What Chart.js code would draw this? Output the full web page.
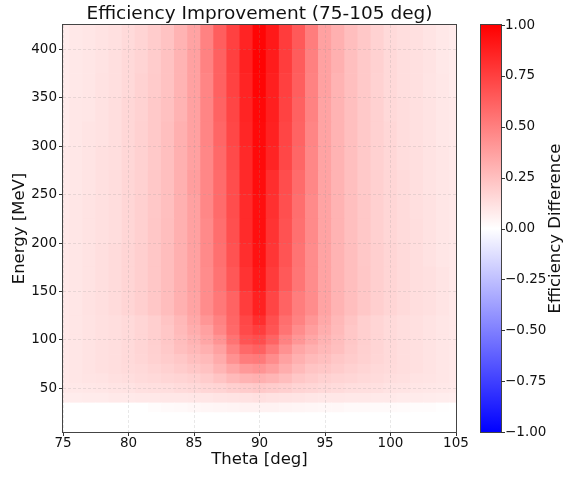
<!DOCTYPE html>
<html>
<head>
<meta charset="utf-8">
<title>Efficiency Improvement</title>
<script src="https://cdn.jsdelivr.net/npm/chart.js@4.4.1/dist/chart.umd.min.js"></script>
<style>
  html, body { margin: 0; padding: 0; background: #fff; }
  canvas { display: block; }
</style>
</head>
<body>
<canvas id="heatmap" width="577" height="477"></canvas>
<script>
// theta bin centres (deg), one column each
const thetaBins = [75, 76, 77, 78, 79, 80, 81, 82, 83, 84, 85, 86, 87, 88, 89, 90,
                   91, 92, 93, 94, 95, 96, 97, 98, 99, 100, 101, 102, 103, 104, 105];

// energy bin edges (MeV): 10 MeV steps up to 125, then 25 MeV steps
const energyEdges = [5, 15, 25, 35, 45, 55, 65, 75, 85, 95, 105, 115, 125,
                     150, 175, 200, 225, 250, 275, 300, 325, 350, 375, 400, 425];

const thetaTicks = [75, 80, 85, 90, 95, 100, 105];
const energyTicks = [50, 100, 150, 200, 250, 300, 350, 400];
const cbarTicks = [-1, -0.75, -0.5, -0.25, 0, 0.25, 0.5, 0.75, 1];

// efficiency difference, one row per energy bin (low -> high), columns follow thetaBins
const effDiff = [
  /*   5-15  */ [0, 0, 0, 0, 0, 0, 0, 0, 0, 0, 0, 0, 0, 0, 0, 0, 0, 0, 0, 0, 0, 0, 0, 0, 0, 0, 0, 0, 0, 0, 0],
  /*  15-25  */ [0, 0, 0, 0, 0, 0, 0, 0, 0, 0, 0, 0, 0, 0, 0, 0, 0, 0, 0, 0, 0, 0, 0, 0, 0, 0, 0, 0, 0, 0, 0],
  /*  25-35  */ [0, 0, 0, 0, 0, 0, 0, 0.01, 0.02, 0.025, 0.03, 0.035, 0.04, 0.045, 0.05, 0.05,
                 0.05, 0.045, 0.04, 0.035, 0.03, 0.03, 0.025, 0.025, 0.02, 0.02, 0.015, 0.01, 0.01, 0.005, 0],
  /*  35-45  */ [0.07, 0.075, 0.08, 0.08, 0.085, 0.085, 0.09, 0.09, 0.095, 0.095, 0.1, 0.1, 0.105, 0.11, 0.115, 0.12,
                 0.115, 0.11, 0.105, 0.1, 0.095, 0.095, 0.09, 0.09, 0.085, 0.085, 0.08, 0.08, 0.075, 0.07, 0.07],
  /*  45-55  */ [0.085, 0.09, 0.095, 0.1, 0.105, 0.11, 0.12, 0.125, 0.13, 0.14, 0.15, 0.16, 0.17, 0.19, 0.2, 0.21,
                 0.2, 0.19, 0.17, 0.16, 0.15, 0.14, 0.13, 0.125, 0.12, 0.11, 0.105, 0.1, 0.095, 0.09, 0.085],
  /*  55-65  */ [0.09, 0.1, 0.105, 0.11, 0.12, 0.13, 0.14, 0.15, 0.16, 0.17, 0.18, 0.2, 0.23, 0.27, 0.3, 0.31,
                 0.29, 0.26, 0.22, 0.2, 0.18, 0.17, 0.16, 0.15, 0.14, 0.13, 0.12, 0.11, 0.105, 0.1, 0.09],
  /*  65-75  */ [0.09, 0.1, 0.11, 0.12, 0.13, 0.14, 0.15, 0.165, 0.18, 0.2, 0.22, 0.24, 0.29, 0.35, 0.4, 0.42,
                 0.38, 0.32, 0.27, 0.23, 0.22, 0.2, 0.18, 0.165, 0.15, 0.14, 0.13, 0.12, 0.11, 0.1, 0.09],
  /*  75-85  */ [0.09, 0.1, 0.11, 0.12, 0.13, 0.145, 0.16, 0.18, 0.2, 0.22, 0.25, 0.27, 0.33, 0.43, 0.51, 0.52,
                 0.45, 0.37, 0.31, 0.27, 0.25, 0.22, 0.2, 0.18, 0.16, 0.145, 0.13, 0.12, 0.11, 0.1, 0.09],
  /*  85-95  */ [0.09, 0.1, 0.11, 0.12, 0.13, 0.145, 0.165, 0.185, 0.21, 0.25, 0.28, 0.31, 0.37, 0.49, 0.59, 0.62,
                 0.53, 0.43, 0.35, 0.31, 0.28, 0.25, 0.21, 0.185, 0.165, 0.145, 0.13, 0.12, 0.11, 0.1, 0.09],
  /*  95-105 */ [0.09, 0.1, 0.11, 0.12, 0.13, 0.145, 0.165, 0.19, 0.22, 0.26, 0.3, 0.35, 0.42, 0.55, 0.67, 0.7,
                 0.61, 0.49, 0.41, 0.35, 0.3, 0.26, 0.22, 0.19, 0.165, 0.145, 0.13, 0.12, 0.11, 0.1, 0.09],
  /* 105-115 */ [0.09, 0.1, 0.11, 0.12, 0.13, 0.145, 0.165, 0.19, 0.22, 0.27, 0.32, 0.37, 0.47, 0.59, 0.71, 0.76,
                 0.67, 0.55, 0.45, 0.38, 0.32, 0.27, 0.22, 0.19, 0.165, 0.145, 0.13, 0.12, 0.11, 0.1, 0.09],
  /* 115-125 */ [0.09, 0.1, 0.11, 0.12, 0.13, 0.145, 0.165, 0.19, 0.23, 0.28, 0.34, 0.41, 0.49, 0.6, 0.72, 0.82,
                 0.69, 0.57, 0.49, 0.41, 0.34, 0.28, 0.23, 0.19, 0.165, 0.145, 0.13, 0.12, 0.11, 0.1, 0.09],
  /* 125-150 */ [0.09, 0.1, 0.115, 0.125, 0.14, 0.165, 0.19, 0.22, 0.26, 0.31, 0.36, 0.45, 0.53, 0.61, 0.76, 0.87,
                 0.73, 0.61, 0.51, 0.45, 0.36, 0.3, 0.255, 0.22, 0.19, 0.165, 0.145, 0.13, 0.12, 0.105, 0.09],
  /* 150-175 */ [0.09, 0.1, 0.11, 0.125, 0.14, 0.165, 0.19, 0.22, 0.26, 0.31, 0.37, 0.45, 0.55, 0.66, 0.8, 0.91,
                 0.77, 0.65, 0.54, 0.45, 0.36, 0.3, 0.255, 0.22, 0.19, 0.165, 0.145, 0.13, 0.12, 0.105, 0.09],
  /* 175-200 */ [0.09, 0.1, 0.11, 0.125, 0.14, 0.165, 0.19, 0.22, 0.26, 0.31, 0.37, 0.46, 0.56, 0.68, 0.82, 0.93,
                 0.79, 0.67, 0.55, 0.45, 0.36, 0.3, 0.255, 0.215, 0.19, 0.165, 0.145, 0.13, 0.115, 0.1, 0.09],
  /* 200-225 */ [0.09, 0.1, 0.11, 0.12, 0.135, 0.16, 0.185, 0.22, 0.255, 0.31, 0.37, 0.46, 0.57, 0.69, 0.83, 0.94,
                 0.8, 0.68, 0.56, 0.46, 0.36, 0.3, 0.25, 0.215, 0.185, 0.16, 0.14, 0.13, 0.115, 0.1, 0.09],
  /* 225-250 */ [0.085, 0.1, 0.11, 0.12, 0.135, 0.16, 0.185, 0.215, 0.25, 0.31, 0.37, 0.47, 0.58, 0.7, 0.83, 0.94,
                 0.81, 0.69, 0.57, 0.46, 0.36, 0.3, 0.25, 0.215, 0.185, 0.16, 0.14, 0.125, 0.115, 0.1, 0.09],
  /* 250-275 */ [0.085, 0.095, 0.105, 0.12, 0.135, 0.16, 0.18, 0.215, 0.25, 0.31, 0.38, 0.47, 0.58, 0.7, 0.84, 0.95,
                 0.82, 0.7, 0.58, 0.47, 0.36, 0.3, 0.25, 0.21, 0.185, 0.16, 0.14, 0.125, 0.11, 0.1, 0.09],
  /* 275-300 */ [0.085, 0.095, 0.105, 0.12, 0.13, 0.155, 0.18, 0.21, 0.25, 0.31, 0.37, 0.47, 0.59, 0.71, 0.84, 0.96,
                 0.86, 0.72, 0.6, 0.47, 0.36, 0.3, 0.25, 0.21, 0.18, 0.155, 0.135, 0.125, 0.11, 0.1, 0.085],
  /* 300-325 */ [0.08, 0.095, 0.105, 0.115, 0.13, 0.155, 0.18, 0.21, 0.25, 0.31, 0.37, 0.48, 0.6, 0.72, 0.85, 0.96,
                 0.87, 0.73, 0.61, 0.48, 0.36, 0.3, 0.25, 0.21, 0.18, 0.155, 0.135, 0.12, 0.11, 0.095, 0.085],
  /* 325-350 */ [0.08, 0.095, 0.1, 0.115, 0.13, 0.155, 0.175, 0.21, 0.245, 0.3, 0.37, 0.48, 0.61, 0.73, 0.86, 0.97,
                 0.88, 0.74, 0.62, 0.49, 0.36, 0.3, 0.25, 0.21, 0.18, 0.15, 0.135, 0.12, 0.11, 0.095, 0.085],
  /* 350-375 */ [0.08, 0.09, 0.1, 0.115, 0.125, 0.15, 0.175, 0.205, 0.24, 0.3, 0.37, 0.48, 0.62, 0.74, 0.86, 0.98,
                 0.88, 0.75, 0.63, 0.49, 0.37, 0.3, 0.25, 0.21, 0.175, 0.15, 0.13, 0.12, 0.105, 0.095, 0.08],
  /* 375-400 */ [0.08, 0.09, 0.1, 0.11, 0.125, 0.15, 0.17, 0.2, 0.24, 0.3, 0.37, 0.49, 0.62, 0.75, 0.87, 0.99,
                 0.89, 0.76, 0.64, 0.5, 0.37, 0.31, 0.25, 0.21, 0.18, 0.15, 0.13, 0.12, 0.11, 0.09, 0.08],
  /* 400-425 */ [0.075, 0.09, 0.1, 0.11, 0.12, 0.145, 0.17, 0.2, 0.235, 0.3, 0.36, 0.49, 0.63, 0.745, 0.86, 0.98,
                 0.9, 0.765, 0.65, 0.51, 0.37, 0.31, 0.255, 0.215, 0.175, 0.145, 0.13, 0.12, 0.105, 0.09, 0.08]
];

const FONT = 'DejaVu Sans';
const INK = '#111';

// matplotlib "bwr": blue (-1) -> white (0) -> red (+1), linear in each half
function bwr(v) {
  const t = Math.max(-1, Math.min(1, v));
  if (t >= 0) {
    const c = Math.round(255 * (1 - t));
    return `rgb(255,${c},${c})`;
  }
  const c = Math.round(255 * (1 + t));
  return `rgb(${c},${c},255)`;
}

function fmtCbar(v) {
  const s = Math.abs(v).toFixed(2);
  return v < 0 ? '\u2212' + s : s;
}

// one floating-bar dataset per energy row; bars span the bin edges
const datasets = effDiff.map((row, i) => ({
  data: thetaBins.map(t => ({ x: t, y: [energyEdges[i], energyEdges[i + 1]] })),
  backgroundColor: row.map(bwr),
  borderWidth: 0,
  grouped: false,
  barPercentage: 1,
  categoryPercentage: 1
}));

// plot frame, colour bar and its label
const frameAndColorbar = {
  id: 'frameAndColorbar',
  afterDraw(chart) {
    const { ctx, chartArea: a, scales } = chart;
    const cb = scales.cbar;
    ctx.save();
    ctx.strokeStyle = '#444';
    ctx.lineWidth = 1;
    const l = Math.round(a.left) - 0.5, r = Math.round(a.right) + 0.5;
    const t = Math.round(a.top) - 0.5, b = Math.round(a.bottom) + 0.5;
    ctx.strokeRect(l, t, r - l, b - t);

    const top = cb.getPixelForValue(1);
    const bottom = cb.getPixelForValue(-1);
    const x0 = Math.round(a.right) + 25, w = 20;
    const grad = ctx.createLinearGradient(0, top, 0, bottom);
    grad.addColorStop(0, bwr(1));
    grad.addColorStop(0.5, bwr(0));
    grad.addColorStop(1, bwr(-1));
    ctx.fillStyle = grad;
    ctx.fillRect(x0, top, w, bottom - top);
    ctx.strokeRect(x0 - 0.5, Math.round(top) - 0.5, w + 1, Math.round(bottom - top) + 1);

    ctx.beginPath();
    cbarTicks.forEach(v => {
      const y = Math.round(cb.getPixelForValue(v)) + 0.5;
      ctx.moveTo(x0 + w, y);
      ctx.lineTo(x0 + w + 4, y);
    });
    ctx.strokeStyle = '#333';
    ctx.stroke();

    ctx.translate(556, (top + bottom) / 2);
    ctx.rotate(-Math.PI / 2);
    ctx.fillStyle = INK;
    ctx.font = `16.5px "${FONT}"`;
    ctx.textAlign = 'center';
    ctx.textBaseline = 'middle';
    ctx.fillText('Efficiency Difference', 0, 0);
    ctx.restore();
  }
};

// dashed grid drawn on top of the cells (z > 0)
const gridStyle = {
  z: 1,
  color: 'rgba(150,150,150,0.22)',
  lineWidth: 1,
  offset: false,
  tickLength: 4,
  tickColor: '#333',
  tickWidth: 1,
  tickBorderDash: []
};

new Chart(document.getElementById('heatmap'), {
  type: 'bar',
  data: { datasets },
  plugins: [frameAndColorbar],
  options: {
    responsive: false,
    animation: false,
    events: [],
    layout: { padding: 0 },
    plugins: {
      legend: { display: false },
      tooltip: { enabled: false },
      title: {
        display: true,
        fullSize: false,
        text: 'Efficiency Improvement (75-105 deg)',
        color: INK,
        font: { family: FONT, size: 18.5, weight: 'normal', lineHeight: '22px' },
        padding: { top: 3, bottom: 0 }
      }
    },
    scales: {
      x: {
        type: 'linear',
        min: 75,
        max: 105,
        offset: false,
        afterBuildTicks: s => { s.ticks = thetaTicks.map(v => ({ value: v })); },
        afterFit: s => { s.height = 45; },
        grid: gridStyle,
        border: { display: false, dash: [3, 2] },
        ticks: { color: INK, font: { family: FONT, size: 13.5, lineHeight: 1 }, padding: 1, maxRotation: 0 },
        title: {
          display: true, text: 'Theta [deg]', color: INK,
          font: { family: FONT, size: 16.5, lineHeight: 1.2 },
          padding: { top: 0, bottom: 7 }
        }
      },
      y: {
        type: 'linear',
        min: 5,
        max: 425,
        afterBuildTicks: s => { s.ticks = energyTicks.map(v => ({ value: v })); },
        afterFit: s => { s.width = 63; },
        grid: gridStyle,
        border: { display: false, dash: [3, 2] },
        ticks: { color: INK, font: { family: FONT, size: 13.5 }, padding: 2 },
        title: {
          display: true, text: 'Energy [MeV]', color: INK,
          font: { family: FONT, size: 16.5, lineHeight: 1.2 },
          padding: { top: 10, bottom: 0 }
        }
      },
      cbar: {
        type: 'linear',
        position: 'right',
        min: -1,
        max: 1,
        afterBuildTicks: s => { s.ticks = cbarTicks.map(v => ({ value: v })); },
        afterFit: s => { s.width = 121; },
        // invisible long tick marks push the labels past the colour bar
        grid: { drawOnChartArea: false, drawTicks: true, tickLength: 47, tickColor: 'rgba(0,0,0,0)' },
        border: { display: false },
        ticks: { color: INK, font: { family: FONT, size: 13.5 }, padding: 2, callback: fmtCbar }
      }
    }
  }
});
</script>
</body>
</html>
